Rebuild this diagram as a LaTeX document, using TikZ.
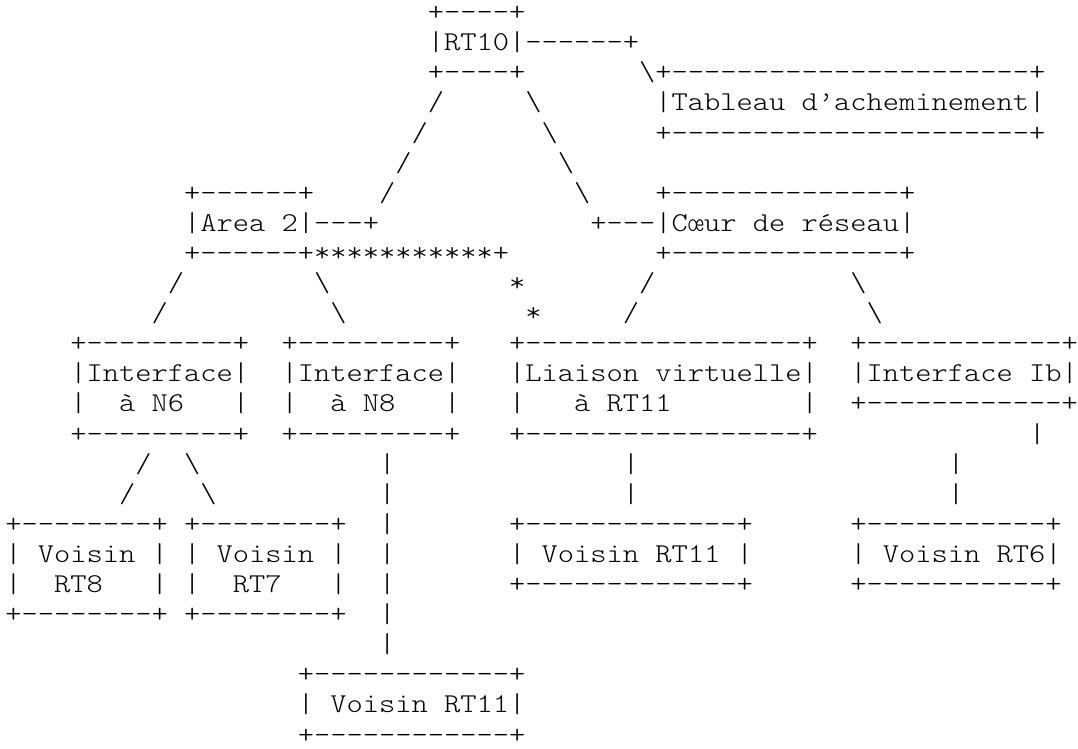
\documentclass[tikz,border=0pt]{standalone}
\usepackage{tikz}
\usetikzlibrary{positioning}
% typewriter face, widened to the cell width of the reference
\font\asciifont="[lmmonolt10-regular]:extend=1.138" at 20.4pt
\fontdimen2\asciifont=\fontcharwd\asciifont`+
\fontdimen3\asciifont=0pt
\fontdimen4\asciifont=0pt
\newcommand\gap[1]{\hspace*{#1\fontcharwd\asciifont`+}}
\newcommand\bksl{\textbackslash}
\tikzset{
  row/.style={inner sep=0pt, outer sep=0pt, text height=15pt, text depth=7.575pt, font=\asciifont},
  under/.style={below=0pt of #1.south west, anchor=north west}
}

\begin{document}
\begin{tikzpicture}[x=0.75pt, y=-0.75pt]
    \path[fill=white, use as bounding box] (0,0) rectangle (1078,749);

    % RT10 and its table
    \node[row, anchor=north west] (r00) at (5.3,0.6) {\gap{26}+----+};
    \node[row, under=r00] (r01) {\gap{26}|RT10|------+};
    \node[row, under=r01] (r02) {\gap{26}+----+\gap{7}\bksl+----------------------+};
    \node[row, under=r02] (r03) {\gap{26}/\gap{5}\bksl\gap{7}|Tableau d’acheminement|};
    \node[row, under=r03] (r04) {\gap{25}/\gap{7}\bksl\gap{6}+----------------------+};
    \node[row, under=r04] (r05) {\gap{24}/\gap{9}\bksl};

    % areas
    \node[row, under=r05] (r06) {\gap{11}+------+\gap{4}/\gap{11}\bksl\gap{4}+--------------+};
    \node[row, under=r06] (r07) {\gap{11}|Area 2|---+\gap{13}+---|Cœur de réseau|};
    \node[row, under=r07] (r08) {\gap{11}+------+***********+\gap{9}+--------------+};
    \node[row, under=r08] (r09) {\gap{10}/\gap{8}\bksl\gap{11}*\gap{7}/\gap{12}\bksl};
    \node[row, under=r09] (r10) {\gap{9}/\gap{10}\bksl\gap{11}*\gap{5}/\gap{14}\bksl};

    % interfaces
    \node[row, under=r10] (r11) {\gap{4}+---------+\gap{2}+---------+\gap{3}+-----------------+\gap{2}+------------+};
    \node[row, under=r11] (r12) {\gap{4}|Interface|\gap{2}|Interface|\gap{3}|Liaison virtuelle|\gap{2}|Interface Ib|};
    \node[row, under=r12] (r13) {\gap{4}|\gap{2}à N6\gap{3}|\gap{2}|\gap{2}à N8\gap{3}|\gap{3}|\gap{3}à RT11\gap{8}|\gap{2}+------------+};
    \node[row, under=r13] (r14) {\gap{4}+---------+\gap{2}+---------+\gap{3}+-----------------+\gap{13}|};
    \node[row, under=r14] (r15) {\gap{8}/\gap{2}\bksl\gap{11}|\gap{14}|\gap{19}|};
    \node[row, under=r15] (r16) {\gap{7}/\gap{4}\bksl\gap{10}|\gap{14}|\gap{19}|};

    % neighbours
    \node[row, under=r16] (r17) {+--------+ +--------+\gap{2}|\gap{7}+-------------+\gap{6}+-----------+};
    \node[row, under=r17] (r18) {| Voisin | | Voisin |\gap{2}|\gap{7}| Voisin RT11 |\gap{6}| Voisin RT6|};
    \node[row, under=r18] (r19) {|\gap{2}RT8\gap{3}| |\gap{2}RT7\gap{3}|\gap{2}|\gap{7}+-------------+\gap{6}+-----------+};
    \node[row, under=r19] (r20) {+--------+ +--------+\gap{2}|};
    \node[row, under=r20] (r21) {\gap{23}|};
    \node[row, under=r21] (r22) {\gap{18}+------------+};
    \node[row, under=r22] (r23) {\gap{18}| Voisin RT11|};
    \node[row, under=r23, text depth=1pt] (r24) {\gap{18}+------------+};
\end{tikzpicture}
\end{document}
